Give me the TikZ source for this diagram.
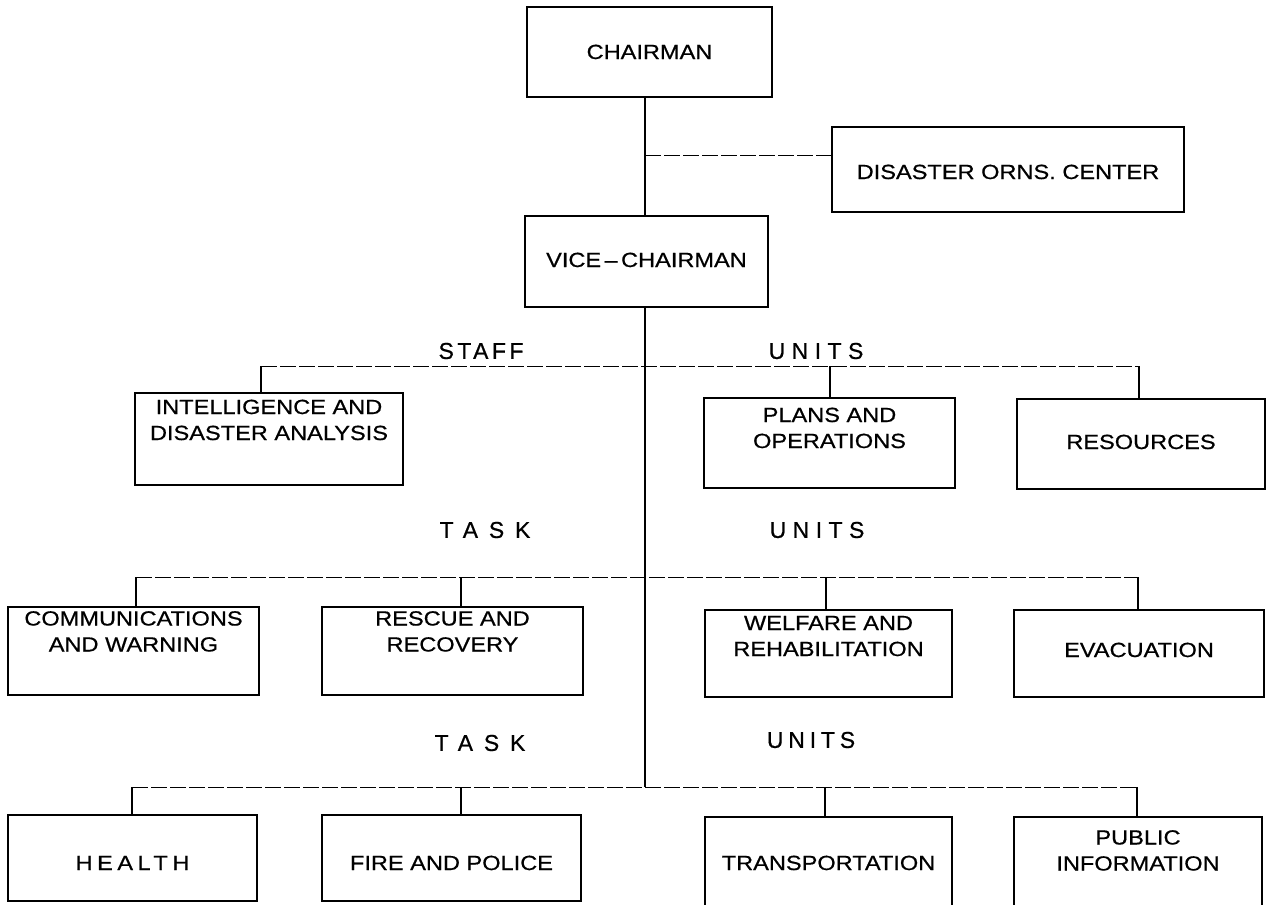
\documentclass[tikz,border=0pt]{standalone}
\usepackage{fontspec}
\setmainfont{Liberation Sans}[FakeStretch=1.15,FakeBold=0.6]
\newfontfamily\lblfont{Liberation Sans}[FakeBold=0.6]
\newcommand\uptext[2]{\raisebox{\dimexpr #1pt-7pt\relax}[0pt][0pt]{\begin{tabular}{@{}c@{}}#2\end{tabular}}}
\begin{document}
\begin{tikzpicture}[x=1pt,y=-1pt,
  box/.style={draw=black, line width=1.2pt, inner sep=0pt, font=\fontsize{20.5}{26}\selectfont},
  vline/.style={line width=1.8pt},
  hline/.style={line width=1pt, dash pattern=on 16pt off 3pt},
  lbl/.style={font=\lblfont\fontsize{23}{23}\selectfont, inner sep=0pt}]
\useasboundingbox (0,0) rectangle (1267,905);
\fill[white] (0,0) rectangle (1267,905);

% boxes
\node[box, minimum width=245pt, minimum height=90pt] (chair) at (649.5,52) {\uptext{0}{CHAIRMAN}};
\node[box, minimum width=352pt, minimum height=85pt] (doc) at (1008,169.5) {\uptext{-2.5}{DISASTER ORNS. CENTER}};
\node[box, minimum width=243pt, minimum height=91pt] (vice) at (646.5,261.5) {\uptext{1.5}{VICE\,–\,CHAIRMAN}};

\node[box, minimum width=268pt, minimum height=92pt] (intel) at (269,439) {\uptext{19}{INTELLIGENCE AND\\DISASTER ANALYSIS}};
\node[box, minimum width=251pt, minimum height=90pt] (plans) at (829.5,443) {\uptext{15}{PLANS AND\\OPERATIONS}};
\node[box, minimum width=248pt, minimum height=90pt] (res) at (1141,444) {\uptext{2}{RESOURCES}};

\node[box, minimum width=251pt, minimum height=88pt] (comm) at (133.5,651) {\uptext{19.5}{COMMUNICATIONS\\AND WARNING}};
\node[box, minimum width=261pt, minimum height=88pt] (rescue) at (452.5,651) {\uptext{19.5}{RESCUE AND\\RECOVERY}};
\node[box, minimum width=247pt, minimum height=87pt] (welf) at (828.5,653.5) {\uptext{17.5}{WELFARE AND\\REHABILITATION}};
\node[box, minimum width=250pt, minimum height=87pt] (evac) at (1139,653.5) {\uptext{3.5}{EVACUATION}};

\node[box, minimum width=249pt, minimum height=86pt] (health) at (132.5,858) {\uptext{-5}{\addfontfeature{LetterSpace=22}HEALTH}};
\node[box, minimum width=259pt, minimum height=86pt] (fire) at (451.5,858) {\uptext{-5}{FIRE AND POLICE}};
\node[box, minimum width=247pt, minimum height=90pt] (trans) at (828.5,862) {\uptext{-1}{TRANSPORTATION}};
\node[box, minimum width=248pt, minimum height=90pt] (pub) at (1138,862) {\uptext{11.5}{PUBLIC\\INFORMATION}};

% labels
\node[lbl] (staff1) at (481,351) {\addfontfeature{LetterSpace=15}STAFF};
\node[lbl] (units1) at (816,351) {\addfontfeature{LetterSpace=28}UNITS};
\node[lbl] (task2) at (485,530) {\addfontfeature{LetterSpace=47}TASK};
\node[lbl] (units2) at (817,530) {\addfontfeature{LetterSpace=28}UNITS};
\node[lbl] (task3) at (480,743) {\addfontfeature{LetterSpace=47}TASK};
\node[lbl] (units3) at (811,740) {\addfontfeature{LetterSpace=21}UNITS};

% spine
\coordinate (s0) at (645,155);
\coordinate (s3) at (645,787);
\draw[vline] (chair.south -| s0) -- (vice.north -| s0);
\draw[hline] (s0) -- (s0 -| doc.west);
\draw[vline] (vice.south -| s3) -- (s3);

% staff / units row
\coordinate (r1a) at (261,366);
\coordinate (r1b) at (830,366);
\coordinate (r1c) at (1139,366);
\draw[hline] (r1a) -- (r1c);
\draw[vline] (r1a) -- (r1a |- intel.north);
\draw[vline] (r1b) -- (r1b |- plans.north);
\draw[vline] (r1c) -- (r1c |- res.north);

% task / units row 2
\coordinate (r2a) at (136,577);
\coordinate (r2b) at (461,577);
\coordinate (r2c) at (826,577);
\coordinate (r2d) at (1138,577);
\draw[hline] (r2a) -- (r2d);
\draw[vline] (r2a) -- (r2a |- comm.north);
\draw[vline] (r2b) -- (r2b |- rescue.north);
\draw[vline] (r2c) -- (r2c |- welf.north);
\draw[vline] (r2d) -- (r2d |- evac.north);

% task / units row 3
\coordinate (r3a) at (132,787);
\coordinate (r3b) at (461,787);
\coordinate (r3c) at (825,787);
\coordinate (r3d) at (1137,787);
\draw[hline] (r3a) -- (r3d);
\draw[vline] (r3a) -- (r3a |- health.north);
\draw[vline] (r3b) -- (r3b |- fire.north);
\draw[vline] (r3c) -- (r3c |- trans.north);
\draw[vline] (r3d) -- (r3d |- pub.north);
\end{tikzpicture}
\end{document}
